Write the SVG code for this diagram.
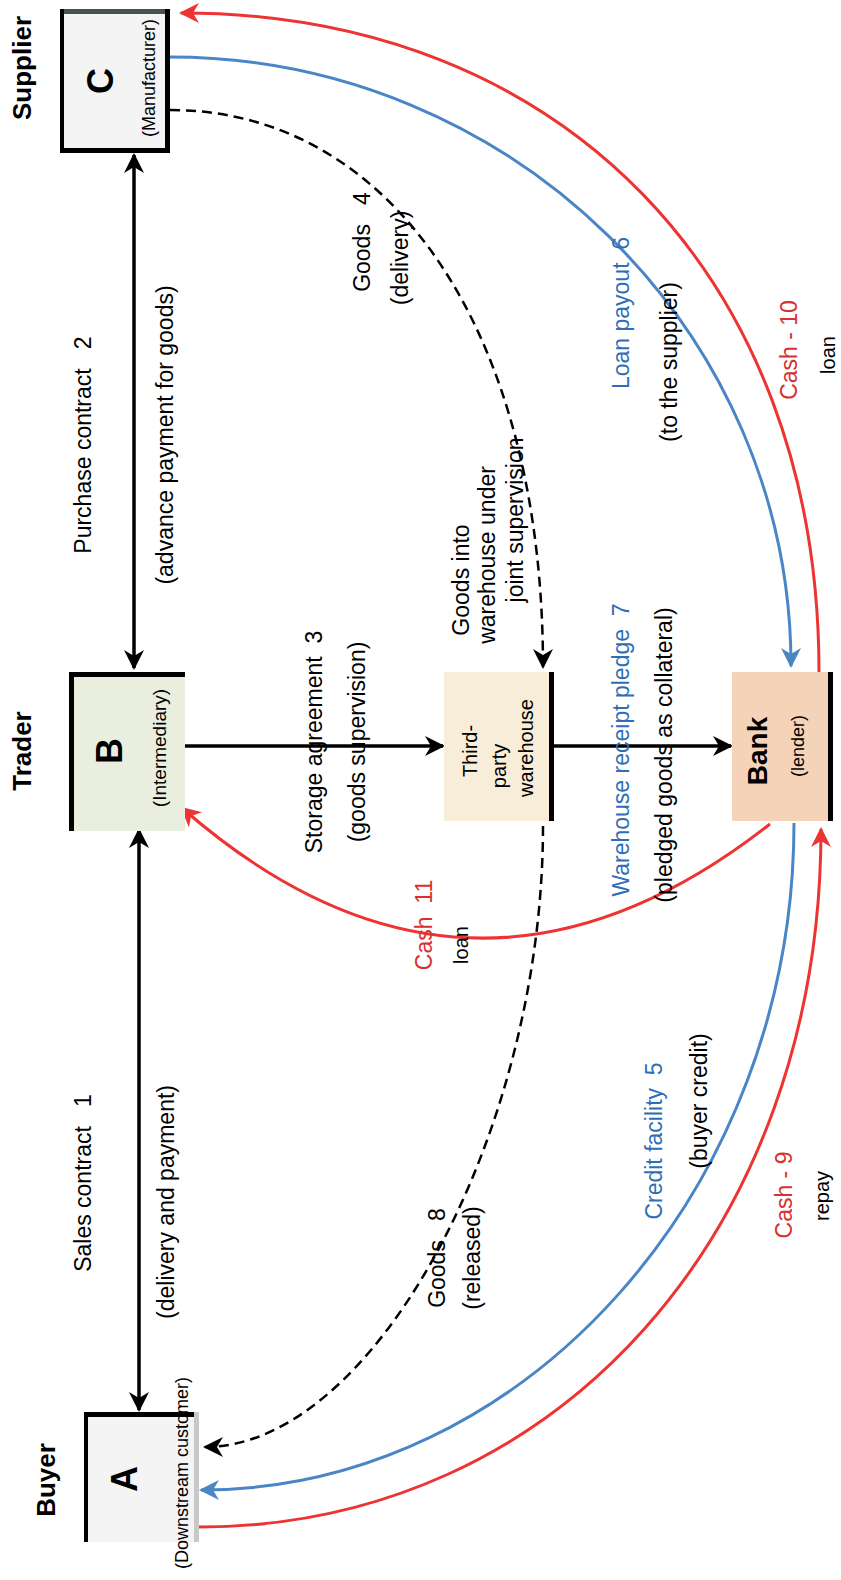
<svg xmlns="http://www.w3.org/2000/svg" width="841" height="1580" viewBox="0 0 841 1580">
<style>
text{font-family:"Liberation Sans",Arial,sans-serif;}
.lbl{font-size:23px;fill:#000;}
.blu{font-size:23px;fill:#2f6eb5;}
.red{font-size:23px;fill:#d93030;}
.sm{font-size:20px;fill:#000;}
.big{font-weight:bold;font-size:36px;}
.role{font-weight:bold;font-size:26px;}
.sub{font-size:18px;}
.mid{font-size:20px;}
.k{stroke:#000;stroke-width:3.5;fill:none;}
.d{stroke:#000;stroke-width:2.5;fill:none;stroke-dasharray:10 6;}
.b{stroke:#4a86c5;stroke-width:3;fill:none;}
.r{stroke:#ee3333;stroke-width:3;fill:none;}
.edge{fill:#000;}
</style>
<defs>
<marker id="ak" viewBox="0 0 20 20" markerUnits="userSpaceOnUse" markerWidth="20" markerHeight="22" refX="18" refY="10" orient="auto-start-reverse"><path d="M0,0 L20,10 L0,20 L6,10 z" fill="#000"/></marker>
<marker id="ab" viewBox="0 0 20 20" markerUnits="userSpaceOnUse" markerWidth="20" markerHeight="22" refX="18" refY="10" orient="auto-start-reverse"><path d="M0,0 L20,10 L0,20 L6,10 z" fill="#4a86c5"/></marker>
<marker id="ar" viewBox="0 0 20 20" markerUnits="userSpaceOnUse" markerWidth="20" markerHeight="22" refX="18" refY="10" orient="auto-start-reverse"><path d="M0,0 L20,10 L0,20 L6,10 z" fill="#ee3333"/></marker>
</defs>
<rect width="841" height="1580" fill="#fff"/>

<g id="connectors">
<line class="k" x1="139" y1="830" x2="139" y2="1410" marker-start="url(#ak)" marker-end="url(#ak)"/>
<line class="k" x1="134" y1="155" x2="134" y2="668" marker-start="url(#ak)" marker-end="url(#ak)"/>
<line class="k" x1="185" y1="746" x2="443" y2="746" marker-end="url(#ak)"/>
<line class="k" x1="554" y1="746" x2="731" y2="746" marker-end="url(#ak)"/>
<path class="d" d="M170,110 C392,110 543,333 543,667" marker-end="url(#ak)"/>
<path class="d" d="M543,826 C543,1136 372,1447 205,1447" marker-end="url(#ak)"/>
<path class="b" d="M170,57 C511,57 791,331 791,666" marker-end="url(#ab)"/>
<path class="b" d="M794,823 C794,1190 524,1490 201,1490" marker-end="url(#ab)"/>
<path class="r" d="M819,672 C819,277 562,13 181,13" marker-end="url(#ar)"/>
<path class="r" d="M770,824 Q470,1060 182,808" marker-end="url(#ar)"/>
<path class="r" d="M199,1527 C556,1527 821,1233 821,829" marker-end="url(#ar)"/>

<text class="lbl" xml:space="preserve" transform="translate(91,1183) rotate(-90)" text-anchor="middle">Sales contract   1</text>
<text class="lbl" transform="translate(174,1202) rotate(-90)" text-anchor="middle">(delivery and payment)</text>
<text class="lbl" xml:space="preserve" transform="translate(91,445) rotate(-90)" text-anchor="middle">Purchase contract   2</text>
<text class="lbl" transform="translate(173,435) rotate(-90)" text-anchor="middle">(advance payment for goods)</text>
<text class="lbl" xml:space="preserve" transform="translate(322,742) rotate(-90)" text-anchor="middle">Storage agreement  3</text>
<text class="lbl" transform="translate(365,742) rotate(-90)" text-anchor="middle">(goods supervision)</text>
<text class="blu" xml:space="preserve" transform="translate(629,750) rotate(-90)" text-anchor="middle">Warehouse receipt pledge  7</text>
<text class="lbl" transform="translate(672,755) rotate(-90)" text-anchor="middle">(pledged goods as collateral)</text>
<text class="lbl" xml:space="preserve" transform="translate(370,242) rotate(-90)" text-anchor="middle">Goods   4</text>
<text class="lbl" transform="translate(408,258) rotate(-90)" text-anchor="middle">(delivery)</text>
<text class="lbl" transform="translate(469,580) rotate(-90)" text-anchor="middle">Goods into</text>
<text class="lbl" transform="translate(495,555) rotate(-90)" text-anchor="middle">warehouse under</text>
<text class="lbl" transform="translate(523,520) rotate(-90)" text-anchor="middle">joint supervision</text>
<text class="lbl" xml:space="preserve" transform="translate(445,1258) rotate(-90)" text-anchor="middle">Goods   8</text>
<text class="lbl" transform="translate(480,1258) rotate(-90)" text-anchor="middle">(released)</text>
<text class="blu" xml:space="preserve" transform="translate(629,313) rotate(-90)" text-anchor="middle">Loan payout  6</text>
<text class="lbl" transform="translate(677,362) rotate(-90)" text-anchor="middle">(to the supplier)</text>
<text class="blu" xml:space="preserve" transform="translate(662,1141) rotate(-90)" text-anchor="middle">Credit facility  5</text>
<text class="lbl" transform="translate(707,1101) rotate(-90)" text-anchor="middle">(buyer credit)</text>
<text class="red" transform="translate(797,350) rotate(-90)" text-anchor="middle">Cash - 10</text>
<text class="sm" transform="translate(835,355) rotate(-90)" text-anchor="middle">loan</text>
<text class="red" xml:space="preserve" transform="translate(432,925) rotate(-90)" text-anchor="middle">Cash  11</text>
<text class="sm" transform="translate(468,945) rotate(-90)" text-anchor="middle">loan</text>
<text class="red" transform="translate(792,1195) rotate(-90)" text-anchor="middle">Cash - 9</text>
<text class="sm" transform="translate(829,1196) rotate(-90)" text-anchor="middle">repay</text>
</g>

<g id="node-A">
<rect x="84" y="1412" width="115" height="130" fill="#f4f4f4"/>
<rect x="84" y="1412" width="4" height="130" class="edge"/>
<rect x="84" y="1412" width="115" height="5" class="edge"/>
<rect x="194" y="1412" width="5" height="130" fill="#c8c8c8"/>
<text class="big" transform="translate(137,1479) rotate(-90)" text-anchor="middle">A</text>
<text class="sub" transform="translate(188,1473) rotate(-90)" text-anchor="middle">(Downstream customer)</text>
<text class="role" transform="translate(55,1480) rotate(-90)" text-anchor="middle">Buyer</text>
</g>

<g id="node-B">
<rect x="69" y="672" width="116" height="159" fill="#eaeedf"/>
<rect x="69" y="672" width="5" height="159" class="edge"/>
<rect x="69" y="672" width="116" height="5" class="edge"/>
<text class="big" transform="translate(122,751) rotate(-90)" text-anchor="middle">B</text>
<text class="sub" style="font-size:19px" transform="translate(166,748) rotate(-90)" text-anchor="middle">(Intermediary)</text>
<text class="role" transform="translate(31,751) rotate(-90)" text-anchor="middle">Trader</text>
</g>

<g id="node-C">
<rect x="60" y="9" width="110" height="144" fill="#f4f4f4"/>
<rect x="60" y="9" width="110" height="5" fill="#4a5250"/>
<rect x="60" y="9" width="4" height="144" class="edge"/>
<rect x="165" y="9" width="5" height="144" class="edge"/>
<rect x="60" y="148" width="110" height="5" class="edge"/>
<text class="big" transform="translate(113,81) rotate(-90)" text-anchor="middle">C</text>
<text class="sub" transform="translate(155,78) rotate(-90)" text-anchor="middle">(Manufacturer)</text>
<text class="role" transform="translate(31,68) rotate(-90)" text-anchor="middle">Supplier</text>
</g>

<g id="node-warehouse">
<rect x="444" y="672" width="110" height="149" fill="#f8edd8"/>
<rect x="549" y="672" width="5" height="149" class="edge"/>
<text class="mid" transform="translate(477,751) rotate(-90)" text-anchor="middle">Third-</text>
<text class="mid" transform="translate(506,766) rotate(-90)" text-anchor="middle">party</text>
<text class="mid" transform="translate(533,748) rotate(-90)" text-anchor="middle">warehouse</text>
</g>

<g id="node-bank">
<rect x="732" y="672" width="101" height="149" fill="#f5d3b8"/>
<rect x="828" y="672" width="5" height="149" class="edge"/>
<text style="font-weight:bold;font-size:28px" transform="translate(767,751) rotate(-90)" text-anchor="middle">Bank</text>
<text class="sub" transform="translate(804,746) rotate(-90)" text-anchor="middle">(lender)</text>
</g>
</svg>
